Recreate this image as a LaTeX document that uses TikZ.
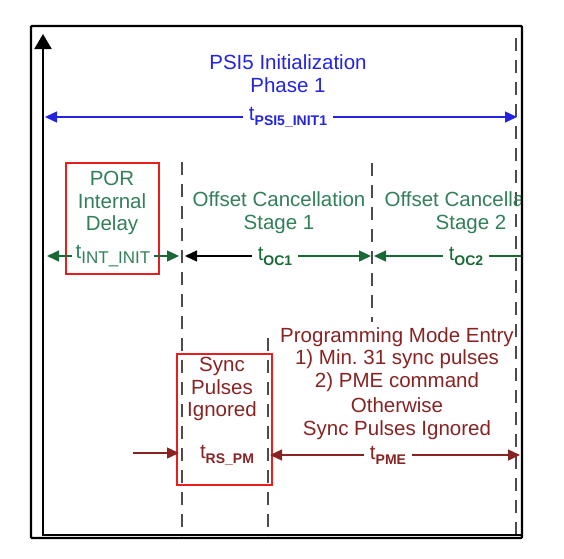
\documentclass[tikz,border=0pt]{standalone}
\usepackage{fontspec}
\setmainfont{Liberation Sans}
\usepackage{tikz}
\usetikzlibrary{arrows.meta}
\definecolor{psiblue}{RGB}{35,35,225}
\definecolor{ocgreen}{RGB}{50,128,90}
\definecolor{arrgreen}{RGB}{25,105,55}
\definecolor{pmred}{RGB}{135,35,35}
\definecolor{boxred}{RGB}{232,30,30}
\tikzstyle{phase} = [text centered, align=center, font=\fontsize{20.5}{22.8}\selectfont, inner sep=1pt]
\tikzstyle{tlab} = [phase, fill=white, inner sep=6pt]
\tikzstyle{arrow} = [line width=1.4pt, -{Triangle[length=12pt,width=11pt]}]
\tikzstyle{boundary} = [line width=1.6pt, draw=black!70, dash pattern=on 13pt off 9pt]
\tikzstyle{redbox} = [rectangle, draw=boxred, line width=1.9pt]
\newcommand{\tsub}[1]{t\raisebox{-0.45ex}{\fontsize{14}{14}\selectfont\bfseries #1}}

\begin{document}
\begin{tikzpicture}[x=1pt,y=-1pt]
        \useasboundingbox (0,0) rectangle (564,558);

        % phase boundaries
        \coordinate (d1top) at (182,162);
        \coordinate (d1bot) at (182,536);
        \coordinate (d2top) at (372,163);
        \coordinate (d2bot) at (372,322);
        \coordinate (d3top) at (268,338);
        \coordinate (d3bot) at (268,536);
        \coordinate (d4top) at (516,38);
        \coordinate (d4bot) at (516,536);
        \draw [boundary] (d1top) -- (d1bot);
        \draw [boundary] (d2top) -- (d2bot);
        \draw [boundary] (d3top) -- (d3bot);
        \draw [boundary] (d4top) -- (d4bot);

        % phase 1
        \node (title) [phase, text=psiblue] at (288,74) {PSI5 Initialization\\Phase 1};
        \node (tinit) [tlab, text=psiblue] at (288,117) {\tsub{PSI5\_INIT1}};
        \coordinate (p0) at (45,117);
        \coordinate (p1) at (517,117);
        \draw [arrow, psiblue] (tinit) -- (p0);
        \draw [arrow, psiblue] (tinit) -- (p1);

        % POR delay
        \node (porbox) [redbox, minimum width=93pt, minimum height=111pt] at (112.5,218.5) {};
        \node (por) [phase, text=ocgreen] at (112,203) {POR\\Internal\\Delay};
        \node (tint) [tlab, text=ocgreen, inner sep=3pt] at (113,256) {t\raisebox{-0.45ex}{\fontsize{17}{17}\selectfont INT\_INIT}};
        \coordinate (i0) at (47,256);
        \coordinate (i1) at (179,256);
        \draw [arrow, arrgreen] (tint) -- (i0);
        \draw [arrow, arrgreen] (tint) -- (i1);

        % offset cancellation
        \node (oc1) [phase, text=ocgreen] at (279,213) {Offset Cancellation\\Stage 1};
        \node (toc1) [tlab, text=arrgreen] at (275,256) {\tsub{OC1}};
        \coordinate (o0) at (185,256);
        \coordinate (o1) at (371,256);
        \draw [arrow, black] (toc1) -- (o0);
        \draw [arrow, arrgreen] (toc1) -- (o1);

        \begin{scope}
            \clip (373,140) rectangle (521,280);
            \node (oc2) [phase, text=ocgreen] at (471,213) {Offset Cancellation\\Stage 2};
            \node (toc2) [tlab, text=arrgreen] at (466,256) {\tsub{OC2}};
            \coordinate (o2) at (374,256);
            \coordinate (o3) at (545,256);
            \draw [arrow, arrgreen] (toc2) -- (o2);
            \draw [arrow, arrgreen] (toc2) -- (o3);
        \end{scope}

        % sync pulses
        \node (syncbox) [redbox, minimum width=95pt, minimum height=131pt] at (224.5,419.5) {};
        \node (sync) [phase, text=pmred] at (222,389) {Sync\\Pulses\\Ignored};
        \node (trs) [phase, text=pmred] at (227,455) {\tsub{RS\_PM}};
        \coordinate (r0) at (133,453);
        \coordinate (r1) at (179,453);
        \draw [arrow, pmred] (r0) -- (r1);

        % programming mode entry
        \node (entry) [phase, text=pmred] at (397,359.5) {Programming Mode Entry\\1) Min.\ 31 sync pulses\\2) PME command};
        \node (other) [phase, text=pmred] at (397,418.5) {Otherwise\\Sync Pulses Ignored};
        \node (tpme) [tlab, text=pmred] at (388,455) {\tsub{PME}};
        \coordinate (m0) at (270,455);
        \coordinate (m1) at (520,455);
        \draw [arrow, pmred] (tpme) -- (m0);
        \draw [arrow, pmred] (tpme) -- (m1);

        % frame and time axis
        \draw [line width=2.2pt, rounded corners=1pt] (31,26) rectangle (522,538);
        \coordinate (origin) at (43,535);
        \coordinate (yend) at (43,34);
        \coordinate (xend) at (522,535);
        \draw [line width=2.2pt, -{Triangle[length=15pt,width=17pt]}] (xend) -- (origin) -- (yend);
\end{tikzpicture}
\end{document}
